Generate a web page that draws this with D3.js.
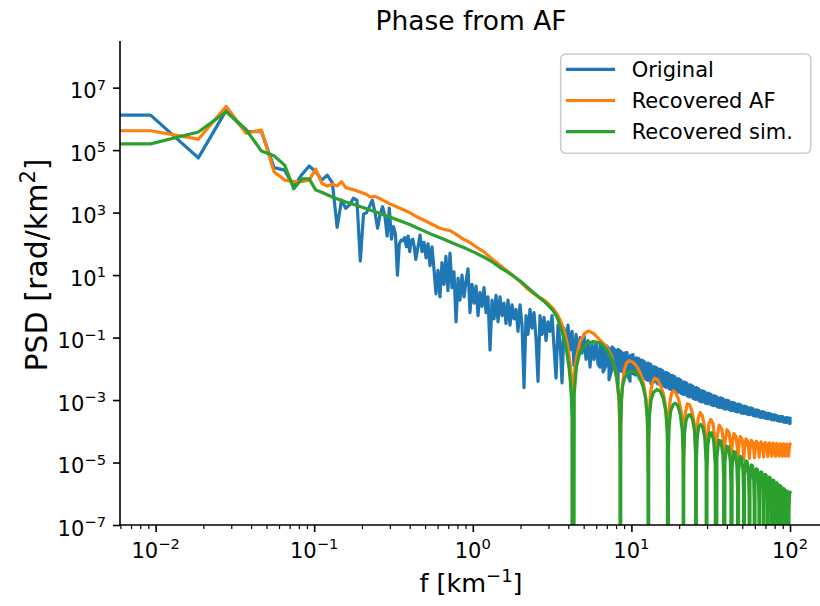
<!DOCTYPE html>
<html>
<head>
<meta charset="utf-8">
<script src="https://cdn.jsdelivr.net/npm/d3@7"></script>
<style>
  body { margin: 0; background: #fff; }
  svg text { font-family: "DejaVu Sans", sans-serif; fill: #000; }
</style>
</head>
<body>
<svg id="chart" width="820" height="606"></svg>
<script>
// ---- Power spectral densities (frequency in km^-1, PSD stored as log10 of rad/km^2) ----
// A PSD of zero is stored as -Infinity; the zero-frequency bin is f = 0.

// Original phase: individual bins up to ~0.6 km^-1
const origFreq = [0, 0.0093, 0.0186, 0.0279, 0.0372, 0.0465, 0.0558, 0.0651, 0.0744, 0.0837, 0.093, 0.1023, 0.1116, 0.1209, 0.1302,
  0.1395, 0.1488, 0.1581, 0.1674, 0.1767, 0.186, 0.1953, 0.2046, 0.2139, 0.2232, 0.2325, 0.2418, 0.2511, 0.2604, 0.2697, 0.279,
  0.2883, 0.2976, 0.3069, 0.3162, 0.3255, 0.3348, 0.3441, 0.3534, 0.3627, 0.372, 0.3813, 0.3906, 0.3999, 0.4092, 0.4185, 0.4278, 0.4371,
  0.451, 0.465, 0.478, 0.492, 0.507, 0.522, 0.537, 0.553, 0.569, 0.586, 0.603, 0.621, 0.639, 0.658, 0.677, 0.697, 0.718, 0.739,
  0.761, 0.784, 0.807, 0.830, 0.855, 0.880, 0.906, 0.933, 0.960, 0.989, 1.018, 1.048, 1.079, 1.110, 1.143, 1.177, 1.211, 1.247,
  1.284, 1.322, 1.361, 1.401, 1.442, 1.484, 1.528, 1.573, 1.619, 1.667, 1.716, 1.767, 1.819, 1.873, 1.928, 1.984, 2.043, 2.103,
  2.165, 2.228, 2.294, 2.362, 2.431, 2.503, 2.577, 2.653, 2.731, 2.811, 2.894, 2.979, 3.067, 3.158, 3.251, 3.347, 3.445, 3.547,
  3.651, 3.758, 3.869, 3.983, 4.100, 4.223, 4.347, 4.475, 4.607, 4.742, 4.882, 5.026, 5.173, 5.326, 5.483, 5.644, 5.810, 5.982, 6.157];
const origLogPSD = [6.12, 6.12, 4.75, 6.28, 5.59, 5.60, 4.44, 4.36, 3.83, 4.22, 4.49, 4.31, 4.04, 4.20, 3.95,
  2.53, 3.40, 3.14, 3.25, 3.46, 3.40, 1.45, 2.95, 3.00, 3.20, 3.40, 3.00, 2.50, 2.95, 3.19, 2.90,
  2.25, 3.14, 2.15, 2.55, 2.30, 1.00, 2.00, 2.12, 2.10, 2.20, 1.91, 2.25, 1.75, 2.10, 2.15, 1.90, 1.50,
  1.9, 2.28, 1.75, 2.05, 1.55, 2.0, 1.3, 1.9, 1.2, 0.4, 1.15, 0.3, 1.4, 0.7, 1.6, 0.5, 1.7, 0.6,
  1.1, -0.5, 0.9, 0.2, 1.0, 0.3, 0.8, 1.2, -0.2, 0.7, 0.1, 0.65, -0.3, 0.45, 0.0, 0.6, -0.2, 0.3,
  -1.4, 0.2, -0.4, 0.35, -0.5, 0.3, -0.3, 0.1, -0.55, 0.2, -0.6, 0.05, -0.4, -0.1, -0.8, 0.05, -0.6, -2.6,
  -0.3, -0.9, -0.1, -0.7, -0.2, -1.0, -2.4, -0.3, -0.9, -0.35, -1.1, -0.5, -0.8, -0.3, -1.3, -2.3, -0.6, -1.1,
  -2.45, -0.7, -1.3, -0.6, -1.4, -0.8, -1.9, -0.9, -1.6, -1.0, -1.5, -0.9, -1.7, -1.1, -1.95, -1.2, -1.7, -1.15, -1.85];

// Original phase above ~6 km^-1: per-bin minimum and maximum of the dense spectrum
const origBandFreq = [6.34, 6.62, 6.92, 7.22, 7.55, 7.88, 8.23, 8.60, 8.98, 9.38, 9.80, 10.23, 10.69, 11.17, 11.66,
  12.18, 12.73, 13.29, 13.89, 14.50, 15.15, 15.82, 16.53, 17.27, 18.03, 18.83, 19.67, 20.54, 21.46, 22.41,
  23.41, 24.45, 25.54, 26.68, 27.87, 29.11, 30.41, 31.76, 33.17, 34.65, 36.19, 37.81, 39.49, 41.25, 43.09,
  45.00, 47.00, 49.09, 51.29, 53.57, 55.95, 58.44, 61.04, 63.75, 66.60, 69.56, 72.65, 75.89, 79.26, 82.79,
  86.47, 90.34, 94.37, 98.56, 100];
const origBandLogHi = [-1.20, -1.30, -1.25, -1.35, -1.30, -1.40, -1.38, -1.45, -1.50, -1.48, -1.58, -1.55, -1.65, -1.68, -1.72,
  -1.79, -1.82, -1.87, -1.93, -1.97, -2.01, -2.07, -2.11, -2.17, -2.21, -2.26, -2.31, -2.37, -2.42, -2.47,
  -2.51, -2.56, -2.60, -2.65, -2.70, -2.74, -2.78, -2.82, -2.86, -2.90, -2.93, -2.96, -3.00, -3.03, -3.07,
  -3.10, -3.13, -3.16, -3.19, -3.22, -3.25, -3.28, -3.31, -3.34, -3.37, -3.40, -3.42, -3.45, -3.47, -3.50,
  -3.52, -3.54, -3.56, -3.58, -3.59];
const origBandLogLo = [-1.95, -2.10, -1.90, -2.35, -2.00, -2.05, -2.50, -2.08, -2.10, -2.15, -2.40, -2.15, -2.20, -2.30, -2.25,
  -2.31, -2.37, -2.48, -2.41, -2.46, -2.50, -2.54, -2.59, -2.63, -2.67, -2.70, -2.75, -2.78, -2.82, -2.86,
  -2.90, -2.94, -2.98, -3.02, -3.06, -3.09, -3.12, -3.15, -3.18, -3.21, -3.24, -3.26, -3.29, -3.31, -3.34,
  -3.36, -3.38, -3.41, -3.43, -3.45, -3.47, -3.49, -3.52, -3.54, -3.56, -3.58, -3.60, -3.62, -3.64, -3.66,
  -3.68, -3.70, -3.72, -3.74, -3.75];

// Phase recovered from the AF
const afFreq = [0, 0.0093, 0.0186, 0.0279, 0.0372, 0.0465, 0.0558, 0.0651, 0.0744, 0.0837, 0.093, 0.1023, 0.1116, 0.1209, 0.1302,
  0.1395, 0.1488, 0.158, 0.175, 0.195, 0.214, 0.225, 0.24, 0.26, 0.28, 0.30, 0.32, 0.347, 0.38, 0.40, 0.45, 0.50, 0.537,
  0.62, 0.72, 0.80, 0.87, 0.915, 1.0, 1.11, 1.17, 1.30, 1.40, 1.48, 1.60, 1.72, 1.80, 2.0, 2.19, 2.40, 2.60, 2.78, 3.0,
  3.22, 3.40, 3.54, 3.72, 3.81, 3.92, 4.0, 4.10, 4.20, 4.26,
  4.32, 4.40, 4.52, 4.74, 5.10, 5.35, 5.75, 6.34, 6.98, 7.52, 8.0, 8.35, 8.52,
  8.60, 8.75, 9.0, 9.3, 9.65, 10.2, 10.8, 11.4, 11.9, 12.3, 12.6, 12.78,
  12.9, 13.2, 13.6, 14.0, 14.6, 15.3, 16.0, 16.5, 16.85, 17.04,
  17.15, 17.4, 17.9, 18.4, 19.1, 19.9, 20.6, 21.1, 21.30,
  21.45, 21.8, 22.5, 23.3, 24.2, 25.0, 25.4, 25.56,
  25.75, 26.3, 27.1, 28.0, 28.9, 29.6, 29.82,
  30.1, 30.8, 31.7, 32.7, 33.6, 34.08,
  34.68, 35.78, 37.08, 37.88, 38.34,
  38.94, 40.04, 41.34, 42.14, 42.60,
  43.20, 44.30, 45.60, 46.40, 46.86,
  47.46, 48.56, 49.86, 50.66, 51.12,
  51.72, 52.82, 54.12, 54.92, 55.38,
  55.98, 57.08, 58.38, 59.18, 59.64,
  60.24, 61.34, 62.64, 63.44, 63.90,
  64.50, 65.60, 66.90, 67.70, 68.16,
  68.76, 69.86, 71.16, 71.96, 72.42,
  73.02, 74.12, 75.42, 76.22, 76.68,
  77.28, 78.38, 79.68, 80.48, 80.94,
  81.54, 82.64, 83.94, 84.74, 85.20,
  85.80, 86.90, 88.20, 89.00, 89.46,
  90.06, 91.16, 92.46, 93.26, 93.72,
  94.32, 95.42, 96.72, 97.52, 97.98,
  98.58, 99.5, 100];
const afLogPSD = [5.62, 5.62, 5.35, 6.40, 5.54, 5.64, 4.31, 4.04, 3.99, 4.00, 4.04, 4.39, 3.94, 3.85, 3.91,
  3.86, 3.99, 3.80, 3.74, 3.66, 3.58, 3.50, 3.52, 3.45, 3.36, 3.28, 3.22, 3.14, 3.05, 3.00, 2.85, 2.74, 2.66,
  2.50, 2.42, 2.28, 2.15, 2.10, 1.98, 1.82, 1.75, 1.55, 1.42, 1.32, 1.18, 1.06, 0.97, 0.78, 0.58, 0.42, 0.30, 0.22, 0.08,
  -0.08, -0.25, -0.42, -0.70, -0.88, -1.15, -1.40, -1.80, -2.35, -3.38,
  -2.5, -2.0, -1.62, -1.13, -0.86, -0.79, -0.86, -1.08, -1.29, -1.61, -2.14, -3.0, -4.55,
  -3.4, -2.6, -2.05, -1.82, -1.74, -1.78, -1.92, -2.15, -2.45, -2.9, -3.6, -5.3,
  -3.6, -2.75, -2.42, -2.30, -2.35, -2.55, -2.85, -3.3, -4.0, -5.5,
  -4.0, -3.15, -2.78, -2.70, -2.78, -3.0, -3.35, -4.0, -5.5,
  -4.2, -3.45, -3.12, -3.15, -3.40, -3.8, -4.5, -5.4,
  -4.3, -3.6, -3.40, -3.50, -3.85, -4.6, -5.3,
  -4.4, -3.75, -3.62, -3.75, -4.3, -5.2,
  -4.20, -3.80, -3.92, -4.25, -5.10,
  -4.33, -3.95, -4.06, -4.37, -5.00,
  -4.42, -4.07, -4.17, -4.45, -4.95,
  -4.48, -4.17, -4.26, -4.52, -4.90,
  -4.53, -4.24, -4.32, -4.56, -4.87,
  -4.56, -4.29, -4.36, -4.59, -4.85,
  -4.58, -4.32, -4.39, -4.60, -4.83,
  -4.59, -4.34, -4.41, -4.61, -4.82,
  -4.60, -4.36, -4.42, -4.62, -4.81,
  -4.61, -4.37, -4.43, -4.62, -4.80,
  -4.61, -4.38, -4.44, -4.63, -4.80,
  -4.62, -4.39, -4.45, -4.63, -4.80,
  -4.62, -4.40, -4.45, -4.64, -4.80,
  -4.62, -4.40, -4.45, -4.64, -4.80,
  -4.63, -4.41, -4.46, -4.64, -4.80,
  -4.62, -4.42, -4.41];

// Phase recovered from the simulation
const simFreq = [0, 0.0093, 0.0186, 0.0279, 0.0372, 0.0465, 0.0558, 0.0651, 0.0744, 0.0837, 0.093, 0.1023, 0.1116, 0.1209, 0.1302,
  0.15, 0.18, 0.214, 0.25, 0.30, 0.35, 0.40, 0.45, 0.50, 0.563, 0.64, 0.72, 0.80, 0.915, 1.03, 1.17, 1.30, 1.48, 1.65, 1.80,
  2.0, 2.19, 2.40, 2.60, 2.78, 3.0, 3.22, 3.40, 3.55, 3.72, 3.85, 3.95, 4.05, 4.12, 4.18, 4.22, 4.26,
  4.36, 4.50, 4.74, 5.22, 5.75, 6.34, 6.98, 7.69, 8.07, 8.37, 8.47, 8.52,
  8.57, 8.65, 8.80, 9.05, 9.5, 10.0, 10.6, 11.2, 11.8, 12.3, 12.6, 12.72, 12.78,
  12.85, 13.0, 13.3, 13.8, 14.5, 15.2, 15.9, 16.5, 16.85, 17.04,
  17.12, 17.3, 17.7, 18.3, 18.9, 19.6, 20.3, 20.9, 21.2, 21.30,
  21.38, 21.6, 22.1, 22.8, 23.5, 24.3, 25.0, 25.4, 25.56,
  25.66, 26.0, 26.6, 27.4, 28.2, 29.0, 29.6, 29.82,
  29.93, 30.4, 31.2, 32.1, 33.0, 33.8, 34.08,
  34.59, 35.57, 36.64, 37.70, 38.16, 38.34,
  38.85, 39.83, 40.90, 41.96, 42.42, 42.60,
  43.11, 44.09, 45.16, 46.22, 46.68, 46.86,
  47.37, 48.35, 49.42, 50.48, 50.94, 51.12,
  51.63, 52.61, 53.68, 54.74, 55.20, 55.38,
  55.89, 56.87, 57.94, 59.00, 59.46, 59.64,
  60.15, 61.13, 62.20, 63.26, 63.72, 63.90,
  64.41, 65.39, 66.46, 67.52, 67.98, 68.16,
  68.67, 69.65, 70.72, 71.78, 72.24, 72.42,
  72.93, 73.91, 74.98, 76.04, 76.50, 76.68,
  77.19, 78.17, 79.24, 80.30, 80.76, 80.94,
  81.45, 82.43, 83.50, 84.56, 85.02, 85.20,
  85.71, 86.69, 87.76, 88.82, 89.28, 89.46,
  89.97, 90.95, 92.02, 93.08, 93.54, 93.72,
  94.23, 95.21, 96.28, 97.34, 97.80, 97.98,
  98.49, 99.47, 100];
const simLogPSD = [5.20, 5.20, 5.58, 6.23, 5.66, 4.97, 4.82, 4.52, 3.76, 4.08, 4.08, 3.72, 3.65, 3.57, 3.50,
  3.38, 3.25, 3.12, 3.00, 2.86, 2.73, 2.62, 2.50, 2.40, 2.28, 2.17, 2.06, 1.96, 1.84, 1.72, 1.58, 1.45, 1.25, 1.10, 0.97,
  0.80, 0.63, 0.45, 0.30, 0.18, 0.02, -0.15, -0.35, -0.62, -0.95, -1.25, -1.60, -2.00, -2.40, -2.90, -3.50, -Infinity,
  -2.8, -1.95, -1.45, -1.20, -1.13, -1.17, -1.38, -1.80, -2.22, -2.95, -3.8, -Infinity,
  -3.8, -3.0, -2.55, -2.3, -2.13, -2.07, -2.10, -2.25, -2.55, -2.95, -3.6, -4.4, -Infinity,
  -4.3, -3.5, -3.0, -2.75, -2.66, -2.72, -2.95, -3.4, -4.1, -Infinity,
  -4.6, -3.8, -3.35, -3.15, -3.10, -3.18, -3.45, -3.95, -4.7, -Infinity,
  -4.9, -4.1, -3.65, -3.48, -3.47, -3.62, -4.0, -4.8, -Infinity,
  -5.0, -4.2, -3.85, -3.78, -3.88, -4.2, -5.0, -Infinity,
  -5.2, -4.4, -4.05, -4.05, -4.3, -5.1, -Infinity,
  -4.82, -4.29, -4.31, -4.72, -5.47, -Infinity,
  -5.01, -4.48, -4.50, -4.91, -5.66, -Infinity,
  -5.18, -4.65, -4.67, -5.08, -5.83, -Infinity,
  -5.33, -4.80, -4.82, -5.23, -5.98, -Infinity,
  -5.48, -4.95, -4.97, -5.38, -6.13, -Infinity,
  -5.61, -5.08, -5.10, -5.51, -6.26, -Infinity,
  -5.73, -5.20, -5.22, -5.63, -6.38, -Infinity,
  -5.83, -5.30, -5.32, -5.73, -6.48, -Infinity,
  -5.91, -5.38, -5.40, -5.81, -6.56, -Infinity,
  -6.00, -5.47, -5.49, -5.90, -6.65, -Infinity,
  -6.09, -5.56, -5.58, -5.99, -6.74, -Infinity,
  -6.18, -5.65, -5.67, -6.08, -6.83, -Infinity,
  -6.27, -5.74, -5.76, -6.17, -6.92, -Infinity,
  -6.36, -5.83, -5.85, -6.26, -7.01, -Infinity,
  -6.44, -5.91, -5.93, -6.34, -7.09, -Infinity,
  -6.50, -5.96, -5.95];

const seriesNames = ["Original", "Recovered AF", "Recovered sim."];
const seriesColors = ["#1f77b4", "#ff7f0e", "#2ca02c"];
const xTickExps = [-2, -1, 0, 1, 2];
const yTickExps = [-7, -5, -3, -1, 1, 3, 5, 7];
const titleText = "Phase from AF";

// ---- Layout ----
const plot = { left: 120, right: 822, top: 41, bottom: 525 };
const lineWidth = 3.2;
const tickFont = 21;
const svg = d3.select("#chart");

const x = d3.scaleLog().domain([Math.pow(10, -2.2244), Math.pow(10, 2.2016)]).range([plot.left, plot.right]);
const y = d3.scaleLog().domain([1e-7, Math.pow(10, 8.493)]).range([plot.bottom, plot.top]);

// Non-positive frequencies and zero power fall far outside the axes and are clipped away.
const line = d3.line()
  .x(d => d.f > 0 ? x(d.f) : plot.left - 1000)
  .y(d => Number.isFinite(d.lp) ? y(Math.pow(10, d.lp)) : plot.bottom + 1000);

const zip = (fs, ls) => fs.map((f, i) => ({ f, lp: ls[i] }));

const origPoints = zip(origFreq, origLogPSD);
origBandFreq.forEach((f, i) => {
  const lo = { f, lp: origBandLogLo[i] }, hi = { f, lp: origBandLogHi[i] };
  if (i % 2 === 0) origPoints.push(lo, hi); else origPoints.push(hi, lo);
});

const series = [
  { name: seriesNames[0], color: seriesColors[0], points: origPoints },
  { name: seriesNames[1], color: seriesColors[1], points: zip(afFreq, afLogPSD) },
  { name: seriesNames[2], color: seriesColors[2], points: zip(simFreq, simLogPSD) }
];

svg.append("defs").append("clipPath").attr("id", "plot-clip")
  .append("rect")
  .attr("x", plot.left).attr("y", plot.top)
  .attr("width", plot.right - plot.left).attr("height", plot.bottom - plot.top);

const lineLayer = svg.append("g").attr("clip-path", "url(#plot-clip)");
series.forEach(s => {
  lineLayer.append("path")
    .attr("d", line(s.points))
    .attr("fill", "none")
    .attr("stroke", s.color)
    .attr("stroke-width", lineWidth)
    .attr("stroke-linejoin", "round")
    .attr("stroke-linecap", "square");
});

// ---- Axes ----
function styleTicks(g, width) {
  g.select(".domain").remove();
  g.selectAll(".tick line").attr("stroke", "#000").attr("stroke-width", width);
}

const [xd0, xd1] = x.domain();
const xMinor = [];
for (let e = -3; e <= 2; e++) {
  for (let k = 2; k <= 9; k++) {
    const v = k * Math.pow(10, e);
    if (v >= xd0 && v <= xd1) xMinor.push(v);
  }
}

svg.append("g").attr("transform", `translate(0,${plot.bottom})`)
  .call(d3.axisBottom(x).tickValues(xMinor).tickSize(4).tickFormat(""))
  .call(g => styleTicks(g, 1.2));
svg.append("g").attr("transform", `translate(0,${plot.bottom})`)
  .call(d3.axisBottom(x).tickValues(xTickExps.map(e => Math.pow(10, e))).tickSize(7).tickFormat(""))
  .call(g => styleTicks(g, 1.6));
svg.append("g").attr("transform", `translate(${plot.left},0)`)
  .call(d3.axisLeft(y).tickValues(yTickExps.map(e => Math.pow(10, e))).tickSize(7).tickFormat(""))
  .call(g => styleTicks(g, 1.6));

// spines
svg.append("line").attr("x1", plot.left).attr("x2", plot.left).attr("y1", plot.top).attr("y2", plot.bottom + 0.8)
  .attr("stroke", "#000").attr("stroke-width", 1.6);
svg.append("line").attr("x1", plot.left - 0.8).attr("x2", plot.right).attr("y1", plot.bottom).attr("y2", plot.bottom)
  .attr("stroke", "#000").attr("stroke-width", 1.6);

function powerLabel(textSel, e) {
  textSel.append("tspan").text("10");
  textSel.append("tspan").attr("dy", -8.7).attr("font-size", tickFont * 0.7)
    .text(e < 0 ? "\u2212" + Math.abs(e) : String(e));
}

xTickExps.forEach(e => {
  const t = svg.append("text")
    .attr("x", x(Math.pow(10, e))).attr("y", 558)
    .attr("text-anchor", "middle").attr("font-size", tickFont);
  powerLabel(t, e);
});
yTickExps.forEach(e => {
  const t = svg.append("text")
    .attr("x", plot.left - 14).attr("y", y(Math.pow(10, e)) + 10.8)
    .attr("text-anchor", "end").attr("font-size", tickFont);
  powerLabel(t, e);
});

// axis labels
const xl = svg.append("text").attr("x", (plot.left + plot.right) / 2).attr("y", 592)
  .attr("text-anchor", "middle").attr("font-size", 25.5);
xl.append("tspan").text("f [km");
xl.append("tspan").attr("dy", -10.5).attr("font-size", 18).text("\u22121");
xl.append("tspan").attr("dy", 10.5).text("]");

const yl = svg.append("text")
  .attr("transform", "translate(47,265) rotate(-90)")
  .attr("text-anchor", "middle").attr("font-size", 30);
yl.append("tspan").text("PSD [rad/km");
yl.append("tspan").attr("dy", -12.5).attr("font-size", 21).text("2");
yl.append("tspan").attr("dy", 12.5).text("]");

svg.append("text").attr("x", (plot.left + plot.right) / 2).attr("y", 30)
  .attr("text-anchor", "middle").attr("font-size", 26.5).text(titleText);

// ---- Legend ----
const legend = svg.append("g");
legend.append("rect")
  .attr("x", 560.7).attr("y", 54).attr("width", 250).attr("height", 99.3)
  .attr("rx", 5).attr("ry", 5)
  .attr("fill", "#fff").attr("fill-opacity", 0.8)
  .attr("stroke", "#cccccc").attr("stroke-width", 1.6);
series.forEach((s, i) => {
  const ly = 69.3 + i * 31.2;
  legend.append("line").attr("x1", 567.5).attr("x2", 613.5).attr("y1", ly).attr("y2", ly)
    .attr("stroke", s.color).attr("stroke-width", lineWidth).attr("stroke-linecap", "square");
  legend.append("text").attr("x", 631.7).attr("y", ly + 7.3).attr("font-size", tickFont).text(s.name);
});
</script>
</body>
</html>
